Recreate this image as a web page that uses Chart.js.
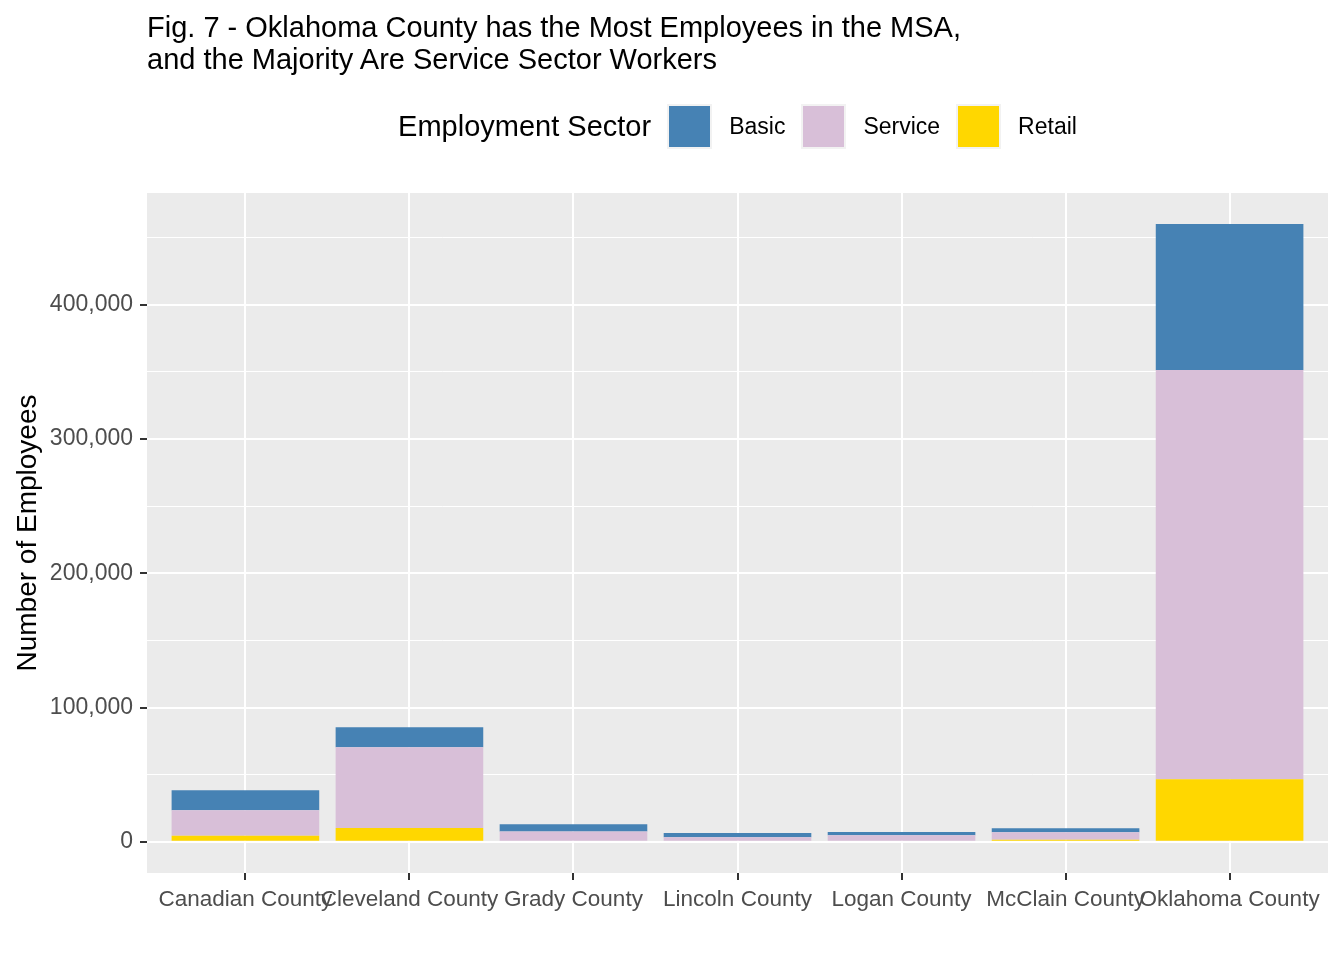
<!DOCTYPE html>
<html>
<head>
<meta charset="utf-8">
<script src="https://cdn.jsdelivr.net/npm/chart.js@4.4.1/dist/chart.umd.min.js"></script>
<style>
  html, body { margin: 0; padding: 0; background: #FFFFFF; }
  #wrap { position: relative; width: 1344px; height: 960px; overflow: hidden; font-family: 'Liberation Sans', Arial, sans-serif; }
  #chart { position: absolute; left: 0; top: 0; }
  #title { position: absolute; left: 147px; top: 11px; font-size: 29px; line-height: 32px; color: #000; white-space: nowrap; }
  #legend { position: absolute; left: 147px; width: 1181px; top: 104px; height: 45px; display: flex; justify-content: center; align-items: center; color: #000; }
  #legend .ltitle { font-size: 29px; margin-right: 16px; }
  #legend .sw { width: 41px; height: 41px; border: 2px solid #F2F2F2; margin-right: 17px; }
  #legend .lab { font-size: 23px; margin-right: 16px; }
  #legend .lab:last-child { margin-right: 0; }
</style>
</head>
<body>
<div id="wrap">
  <canvas id="chart" width="1344" height="960"></canvas>
  <div id="title">Fig. 7 - Oklahoma County has the Most Employees in the MSA,<br>and the Majority Are Service Sector Workers</div>
  <div id="legend"></div>
</div>
<script>
const categories = ['Canadian County', 'Cleveland County', 'Grady County', 'Lincoln County', 'Logan County', 'McClain County', 'Oklahoma County'];
const basic   = [14900, 14900, 5400, 3000, 2250, 3000, 108800];
const service = [19100, 60100, 7000, 2750, 4250, 5700, 304700];
const retail  = [4500, 10400, 750, 750, 750, 1500, 46700];
const yTicks  = [0, 50000, 100000, 150000, 200000, 250000, 300000, 350000, 400000, 450000];
const seriesNames = ['Basic', 'Service', 'Retail'];
const seriesColors = ['#4682B4', '#D8BFD8', '#FFD700'];

// HTML legend (order Basic, Service, Retail)
const leg = document.getElementById('legend');
const lt = document.createElement('span'); lt.className = 'ltitle'; lt.textContent = 'Employment Sector'; leg.appendChild(lt);
seriesNames.forEach((n, i) => {
  const sw = document.createElement('span'); sw.className = 'sw'; sw.style.background = seriesColors[i]; leg.appendChild(sw);
  const lb = document.createElement('span'); lb.className = 'lab'; lb.textContent = n; leg.appendChild(lb);
});

const toPts = arr => arr.map((v, i) => ({ x: i + 1, y: v }));

const bgPlugin = {
  id: 'panelBg',
  beforeDraw(chart) {
    const { ctx, chartArea: a } = chart;
    ctx.save();
    ctx.fillStyle = '#EBEBEB';
    ctx.fillRect(a.left, a.top, a.right - a.left, a.bottom - a.top);
    ctx.restore();
  }
};

Chart.defaults.font.family = "'Liberation Sans', Arial, sans-serif";

new Chart(document.getElementById('chart'), {
  type: 'bar',
  data: {
    datasets: [
      { label: 'Retail', data: toPts(retail), backgroundColor: seriesColors[2], borderWidth: 0 },
      { label: 'Service', data: toPts(service), backgroundColor: seriesColors[1], borderWidth: 0 },
      { label: 'Basic', data: toPts(basic), backgroundColor: seriesColors[0], borderWidth: 0 }
    ]
  },
  options: {
    responsive: false,
    animation: false,
    devicePixelRatio: 1,
    categoryPercentage: 0.9,
    barPercentage: 1.0,
    layout: { padding: { top: 193, right: 16, bottom: 0, left: 0 } },
    plugins: { legend: { display: false }, title: { display: false }, tooltip: { enabled: false } },
    scales: {
      x: {
        type: 'linear', stacked: true, min: 0.4, max: 7.6, offset: false,
        afterBuildTicks: s => { s.ticks = categories.map((c, i) => ({ value: i + 1 })); },
        afterFit: s => { s.height = 87; },
        ticks: { autoSkip: false, maxRotation: 0, minRotation: 0, padding: 6, color: '#4D4D4D', font: { size: 22.5 },
                 callback: v => categories[Math.round(v) - 1] },
        grid: { offset: false, color: '#FFFFFF', lineWidth: 2, tickLength: 7, tickColor: '#333333', tickWidth: 2 },
        border: { display: false }
      },
      y: {
        stacked: true, min: -23200, max: 483200,
        afterBuildTicks: s => { s.ticks = yTicks.map(v => ({ value: v })); },
        afterFit: s => { s.width = 147; },
        ticks: { padding: 7, color: '#4D4D4D', font: { size: 23 },
                 callback: v => (v % 100000 === 0 ? v.toLocaleString('en-US') : '') },
        grid: {
          color: '#FFFFFF',
          lineWidth: c => (c.tick && c.tick.value % 100000 === 0 ? 2 : 1),
          tickLength: 7,
          tickColor: c => (c.tick && c.tick.value % 100000 === 0 ? '#333333' : 'rgba(0,0,0,0)'),
          tickWidth: 2
        },
        border: { display: false },
        title: { display: true, text: 'Number of Employees', color: '#000000', font: { size: 28 }, padding: { top: 11, bottom: 0 } }
      }
    }
  },
  plugins: [bgPlugin]
});
</script>
</body>
</html>
